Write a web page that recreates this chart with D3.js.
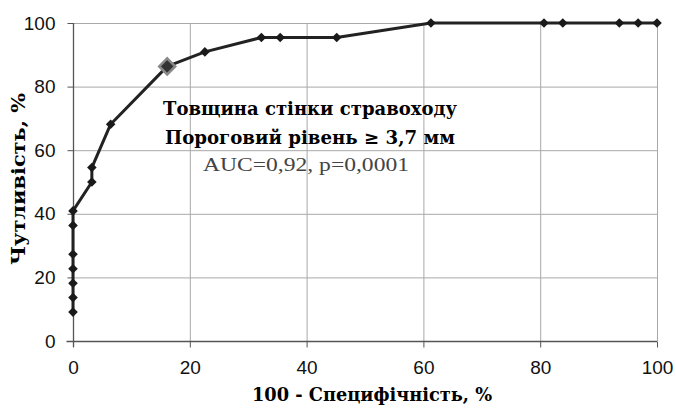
<!DOCTYPE html>
<html><head><meta charset="utf-8">
<script src="https://cdn.jsdelivr.net/npm/d3@7"></script>
<style>body{margin:0;background:#fff}svg{display:block}</style>
</head><body>
<script>
// ROC points: 100 - specificity (%) and sensitivity (%)
const fpr = [0, 0, 0, 0, 0, 0, 0, 3.23, 3.23, 6.45, 16.13, 22.58, 32.26, 35.48, 45.16, 61.29, 80.65, 83.87, 93.55, 96.77, 100];
const tpr = [9.09, 13.64, 18.18, 22.73, 27.27, 36.36, 40.91, 50.0, 54.55, 68.18, 86.36, 90.91, 95.45, 95.45, 95.45, 100, 100, 100, 100, 100, 100];
const cutoffIndex = 10;
const xTicks = [0, 20, 40, 60, 80, 100];
const yTicks = [0, 20, 40, 60, 80, 100];
const xTitle = "100 - Специфічність, %";
const yTitle = "Чутливість, %";
const noteLines = ["Товщина стінки стравоходу", "Пороговий рівень ≥  3,7 мм", "AUC=0,92, p=0,0001"];

const W = 676, H = 415;
const m = {left: 73, right: 19, top: 23, bottom: 74};
const svg = d3.select("body").append("svg").attr("width", W).attr("height", H);
const x = d3.scaleLinear().domain([0, 100]).range([m.left, W - m.right]);
const y = d3.scaleLinear().domain([0, 100]).range([H - m.bottom, m.top]);
const serif = "'DejaVu Serif', 'Liberation Serif', serif";

// grid
svg.append("g").selectAll("line").data(xTicks.slice(1)).join("line")
  .attr("x1", d => x(d) + 0.5).attr("x2", d => x(d) + 0.5)
  .attr("y1", y(0)).attr("y2", y(100))
  .attr("stroke", "#a8a8a8").attr("stroke-width", 1);
svg.append("g").selectAll("line").data(yTicks.slice(1)).join("line")
  .attr("x1", x(0)).attr("x2", x(100))
  .attr("y1", d => y(d) + 0.5).attr("y2", d => y(d) + 0.5)
  .attr("stroke", "#a8a8a8").attr("stroke-width", 1);

// axes
const xa = svg.append("g").attr("transform", `translate(0,${y(0) + 0.5})`)
  .call(d3.axisBottom(x).tickValues(xTicks).tickSize(6).tickPadding(13).tickSizeOuter(0));
const ya = svg.append("g").attr("transform", `translate(${x(0) + 0.5},0)`)
  .call(d3.axisLeft(y).tickValues(yTicks).tickSize(6).tickPadding(12).tickSizeOuter(0));
[xa, ya].forEach(a => {
  a.select(".domain").attr("stroke", "#555").attr("stroke-width", 1.3);
  a.selectAll(".tick line").attr("stroke", "#555");
  a.selectAll("text").attr("font-family", "'Liberation Sans', Arial, sans-serif")
    .attr("font-size", 19).attr("fill", "#111");
});
ya.select(".domain").attr("d", `M0,${y(0) + 6}V${y(100)}`);
xa.select(".domain").attr("d", `M${x(0) - 6 - 0.5},0H${x(100)}`);

// line
const line = d3.line().x((d, i) => x(fpr[i])).y((d, i) => y(tpr[i]));
svg.append("path").datum(tpr).attr("d", line).attr("fill", "none")
  .attr("stroke", "#222").attr("stroke-width", 3).attr("stroke-linejoin", "round");

// markers
const diamond = s => `M0,${-s}L${s},0L0,${s}L${-s},0Z`;
svg.append("g").selectAll("path").data(tpr).join("path")
  .attr("transform", (d, i) => `translate(${x(fpr[i])},${y(d)})`)
  .attr("d", (d, i) => i === cutoffIndex ? diamond(8) : diamond(4.8))
  .attr("fill", (d, i) => i === cutoffIndex ? "#333" : "#1a1a1a")
  .attr("stroke", (d, i) => i === cutoffIndex ? "#8a8a8a" : "none")
  .attr("stroke-width", 2.5);

// annotation
const note = svg.append("g").attr("text-anchor", "middle");
note.append("text").attr("x", 310).attr("y", 115).attr("font-family", serif).attr("font-size", 18)
  .attr("font-weight", "bold").attr("fill", "#000")
  .attr("textLength", 294).attr("lengthAdjust", "spacingAndGlyphs").text(noteLines[0]);
note.append("text").attr("x", 310).attr("y", 144).attr("font-family", serif).attr("font-size", 18)
  .attr("font-weight", "bold").attr("fill", "#000")
  .attr("textLength", 290).attr("lengthAdjust", "spacingAndGlyphs").text(noteLines[1]);
note.append("text").attr("x", 306).attr("y", 171).attr("font-family", "'Liberation Serif', serif")
  .attr("font-size", 19).attr("fill", "#444")
  .attr("textLength", 206).attr("lengthAdjust", "spacingAndGlyphs").text(noteLines[2]);

// titles
svg.append("text").attr("x", 372).attr("y", 401).attr("text-anchor", "middle")
  .attr("font-family", serif).attr("font-weight", "bold")
  .attr("font-size", 18).attr("fill", "#000")
  .attr("textLength", 240).attr("lengthAdjust", "spacingAndGlyphs").text(xTitle);
svg.append("text").attr("transform", "translate(25,179) rotate(-90)").attr("text-anchor", "middle")
  .attr("font-family", serif).attr("font-weight", "bold")
  .attr("font-size", 18).attr("fill", "#000")
  .attr("textLength", 172).attr("lengthAdjust", "spacingAndGlyphs").text(yTitle);
</script>
</body></html>
